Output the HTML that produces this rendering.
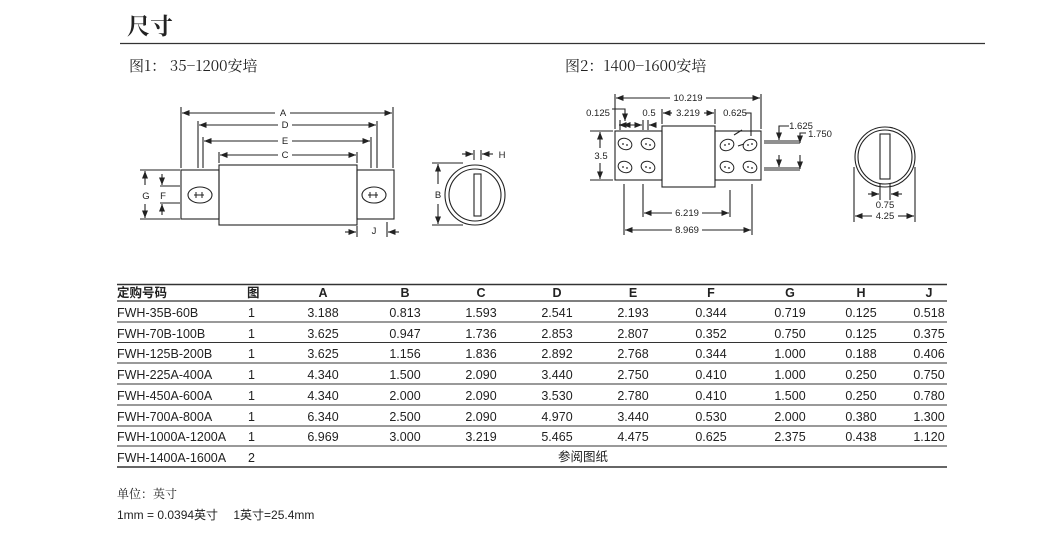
<!DOCTYPE html>
<html><head><meta charset="utf-8"><style>
body{margin:0;background:#fff;}
svg{display:block;}
text{font-family:"Liberation Sans","Noto Sans CJK SC",sans-serif;fill:#222;}
.c{font-family:"Liberation Serif","Noto Serif CJK SC",serif;}
</style></head><body>
<svg width="1056" height="547" viewBox="0 0 1056 547" xmlns="http://www.w3.org/2000/svg">
<defs>
<marker id="ar" viewBox="0 0 10 10" refX="10" refY="5" markerWidth="7" markerHeight="7" orient="auto-start-reverse"><path d="M0,1 L10,5 L0,9 z" fill="#222"/></marker>
</defs>
<text x="127" y="34" font-size="23" font-weight="bold" class="c" style="font-family:'Noto Serif CJK SC',serif">尺寸</text>
<line x1="120" y1="43.5" x2="985" y2="43.5" stroke="#333" stroke-width="1.2"/>
<text x="129" y="71" font-size="15" class="c" style="font-family:'Noto Serif CJK SC',serif">图1：  35−1200安培</text>
<text x="565" y="71" font-size="15" class="c" style="font-family:'Noto Serif CJK SC',serif">图2：1400−1600安培</text>

<g stroke="#222" fill="none" stroke-width="1.1">
<!-- fig1 -->
<rect x="181" y="170" width="38" height="49"/>
<rect x="219" y="165" width="138" height="60"/>
<rect x="357" y="170" width="37" height="49"/>
<ellipse cx="200" cy="195" rx="12" ry="8"/>
<ellipse cx="374" cy="195" rx="12" ry="8"/>
<g stroke-width="1"><line x1="196" y1="192" x2="196" y2="198"/><line x1="202" y1="192" x2="202" y2="198"/><line x1="194" y1="195" x2="204" y2="195"/>
<line x1="370" y1="192" x2="370" y2="198"/><line x1="376" y1="192" x2="376" y2="198"/><line x1="368" y1="195" x2="378" y2="195"/></g>
<line x1="181" y1="107" x2="181" y2="168"/><line x1="393" y1="107" x2="393" y2="168"/>
<line x1="198" y1="121" x2="198" y2="168"/><line x1="377" y1="121" x2="377" y2="168"/>
<line x1="203" y1="137" x2="203" y2="168"/><line x1="371" y1="137" x2="371" y2="168"/>
<line x1="219" y1="152" x2="219" y2="163"/><line x1="357" y1="152" x2="357" y2="163"/>
<line x1="182" y1="113" x2="275" y2="113" marker-start="url(#ar)"/><line x1="290" y1="113" x2="392" y2="113" marker-end="url(#ar)"/>
<line x1="199" y1="125" x2="278" y2="125" marker-start="url(#ar)"/><line x1="292" y1="125" x2="376" y2="125" marker-end="url(#ar)"/>
<line x1="204" y1="141" x2="278" y2="141" marker-start="url(#ar)"/><line x1="292" y1="141" x2="370" y2="141" marker-end="url(#ar)"/>
<line x1="220" y1="155" x2="278" y2="155" marker-start="url(#ar)"/><line x1="292" y1="155" x2="356" y2="155" marker-end="url(#ar)"/>
<line x1="140" y1="170" x2="180" y2="170"/><line x1="140" y1="219" x2="180" y2="219"/>
<line x1="160" y1="186" x2="180" y2="186"/><line x1="160" y1="203" x2="180" y2="203"/>
<line x1="145" y1="185" x2="145" y2="171" marker-end="url(#ar)"/><line x1="145" y1="204" x2="145" y2="218" marker-end="url(#ar)"/>
<line x1="162" y1="174" x2="162" y2="185" marker-end="url(#ar)"/><line x1="162" y1="215" x2="162" y2="204" marker-end="url(#ar)"/>
<line x1="357" y1="226" x2="357" y2="237"/><line x1="387" y1="222" x2="387" y2="237"/>
<line x1="345" y1="232" x2="356" y2="232" marker-end="url(#ar)"/><line x1="399" y1="232" x2="388" y2="232" marker-end="url(#ar)"/>
<circle cx="475" cy="195" r="30"/><circle cx="475" cy="195" r="26"/>
<rect x="474" y="174" width="7" height="42"/>
<line x1="432" y1="163" x2="463" y2="163"/><line x1="432" y1="225" x2="463" y2="225"/>
<line x1="438" y1="184" x2="438" y2="164" marker-end="url(#ar)"/><line x1="438" y1="204" x2="438" y2="224" marker-end="url(#ar)"/>
<line x1="474" y1="150" x2="474" y2="160"/><line x1="481" y1="150" x2="481" y2="160"/>
<line x1="462" y1="154" x2="473" y2="154" marker-end="url(#ar)"/><line x1="493" y1="154" x2="482" y2="154" marker-end="url(#ar)"/>

<!-- fig2 -->
<rect x="615" y="131" width="47" height="49"/>
<rect x="662" y="126" width="53" height="61"/>
<rect x="715" y="131" width="46" height="49"/>
<g stroke-width="1">
<ellipse cx="625" cy="144" rx="7" ry="5.5" transform="rotate(20 625 144)"/>
<ellipse cx="648" cy="144" rx="7" ry="5.5" transform="rotate(20 648 144)"/>
<ellipse cx="625" cy="167" rx="7" ry="5.5" transform="rotate(20 625 167)"/>
<ellipse cx="648" cy="167" rx="7" ry="5.5" transform="rotate(20 648 167)"/>
<ellipse cx="727" cy="145" rx="7" ry="5.5" transform="rotate(-20 727 145)"/>
<ellipse cx="750" cy="145" rx="7" ry="5.5" transform="rotate(-20 750 145)"/>
<ellipse cx="727" cy="167" rx="7" ry="5.5" transform="rotate(20 727 167)"/>
<ellipse cx="750" cy="167" rx="7" ry="5.5" transform="rotate(20 750 167)"/>
</g>
<g fill="#222" stroke="none">
<circle cx="623" cy="144" r="0.9"/><circle cx="627" cy="145" r="0.9"/><circle cx="646" cy="144" r="0.9"/><circle cx="650" cy="145" r="0.9"/>
<circle cx="623" cy="167" r="0.9"/><circle cx="627" cy="168" r="0.9"/><circle cx="646" cy="167" r="0.9"/><circle cx="650" cy="168" r="0.9"/>
<circle cx="725" cy="145" r="0.9"/><circle cx="729" cy="144" r="0.9"/><circle cx="748" cy="145" r="0.9"/><circle cx="752" cy="144" r="0.9"/>
<circle cx="725" cy="167" r="0.9"/><circle cx="729" cy="168" r="0.9"/><circle cx="748" cy="167" r="0.9"/><circle cx="752" cy="168" r="0.9"/>
</g>
<line x1="615" y1="94" x2="615" y2="129"/><line x1="761" y1="94" x2="761" y2="129"/>
<line x1="616" y1="98" x2="670" y2="98" marker-start="url(#ar)"/><line x1="706" y1="98" x2="760" y2="98" marker-end="url(#ar)"/>
<line x1="662" y1="109" x2="662" y2="124"/><line x1="715" y1="109" x2="715" y2="124"/>
<line x1="663" y1="113" x2="672" y2="113" marker-start="url(#ar)"/><line x1="704" y1="113" x2="714" y2="113" marker-end="url(#ar)"/>
<line x1="620" y1="120" x2="620" y2="130"/><line x1="643" y1="120" x2="643" y2="130"/><line x1="648" y1="120" x2="648" y2="130"/>
<line x1="622" y1="125" x2="619" y2="125" marker-end="url(#ar)"/>
<line x1="623" y1="125" x2="642" y2="125" marker-start="url(#ar)" marker-end="url(#ar)"/>
<line x1="656" y1="125" x2="649" y2="125" marker-end="url(#ar)"/>
<polyline points="612,109 625,109 625,121" marker-end="url(#ar)"/>
<polyline points="745,113 751,113 751,136" />
<line x1="742" y1="130" x2="734" y2="135"/><line x1="744" y1="144" x2="738" y2="146"/>
<line x1="590" y1="131" x2="613" y2="131"/><line x1="590" y1="180" x2="613" y2="180"/>
<line x1="600" y1="148" x2="600" y2="132" marker-end="url(#ar)"/><line x1="600" y1="163" x2="600" y2="179" marker-end="url(#ar)"/>
<line x1="764" y1="141" x2="800" y2="141"/><line x1="764" y1="143" x2="800" y2="143"/>
<line x1="764" y1="168" x2="800" y2="168"/><line x1="764" y1="170" x2="800" y2="170"/>
<polyline points="789,126 779,126 779,140" marker-end="url(#ar)"/><line x1="779" y1="155" x2="779" y2="167" marker-end="url(#ar)"/>
<polyline points="806,133 800,133 800,143" marker-end="url(#ar)"/><line x1="800" y1="155" x2="800" y2="169" marker-end="url(#ar)"/>
<line x1="624" y1="184" x2="624" y2="235"/><line x1="643" y1="184" x2="643" y2="217"/>
<line x1="730" y1="190" x2="730" y2="217"/><line x1="752" y1="184" x2="752" y2="235"/>
<line x1="644" y1="213" x2="672" y2="213" marker-start="url(#ar)"/><line x1="702" y1="213" x2="729" y2="213" marker-end="url(#ar)"/>
<line x1="625" y1="230" x2="672" y2="230" marker-start="url(#ar)"/><line x1="702" y1="230" x2="751" y2="230" marker-end="url(#ar)"/>
<circle cx="885" cy="157" r="30"/><circle cx="885" cy="157" r="27"/>
<rect x="880" y="134" width="10" height="45"/>
<line x1="880" y1="184" x2="880" y2="200"/><line x1="890" y1="184" x2="890" y2="200"/>
<line x1="868" y1="194" x2="879" y2="194" marker-end="url(#ar)"/><line x1="902" y1="194" x2="891" y2="194" marker-end="url(#ar)"/>
<line x1="854" y1="167" x2="854" y2="222"/><line x1="915" y1="167" x2="915" y2="222"/>
<line x1="855" y1="216" x2="872" y2="216" marker-start="url(#ar)"/><line x1="898" y1="216" x2="914" y2="216" marker-end="url(#ar)"/>
</g>
<g font-size="9.5" text-anchor="middle">
<text x="283" y="116">A</text><text x="285" y="128">D</text><text x="285" y="144">E</text><text x="285" y="158">C</text>
<text x="146" y="199">G</text><text x="163" y="199">F</text><text x="374" y="234">J</text>
<text x="438" y="198">B</text><text x="502" y="158">H</text>
<text x="688" y="101">10.219</text><text x="688" y="116">3.219</text>
<text x="598" y="116">0.125</text><text x="649" y="116">0.5</text><text x="735" y="116">0.625</text>
<text x="801" y="129">1.625</text><text x="820" y="137">1.750</text>
<text x="601" y="159">3.5</text>
<text x="687" y="216">6.219</text><text x="687" y="233">8.969</text>
<text x="885" y="208">0.75</text><text x="885" y="219">4.25</text>
</g>
<!-- table -->
<g stroke="#333">
<line x1="117" y1="284.5" x2="947" y2="284.5" stroke-width="1.6"/>
<line x1="117" y1="301" x2="947" y2="301" stroke-width="1.2"/>
<line x1="117" y1="322" x2="947" y2="322"/><line x1="117" y1="342.5" x2="947" y2="342.5"/>
<line x1="117" y1="363" x2="947" y2="363"/><line x1="117" y1="384" x2="947" y2="384"/>
<line x1="117" y1="405" x2="947" y2="405"/><line x1="117" y1="426" x2="947" y2="426"/>
<line x1="117" y1="446" x2="947" y2="446"/><line x1="117" y1="467" x2="947" y2="467" stroke-width="1.4"/>
</g>
<g font-size="12.5">
<text x="117" y="297" font-weight="bold" style="font-family:'Noto Sans CJK SC',sans-serif">定购号码</text>
<text x="247" y="297" font-weight="bold" style="font-family:'Noto Sans CJK SC',sans-serif">图</text>
<g font-weight="bold" text-anchor="middle"><text x="323" y="297">A</text><text x="405" y="297">B</text><text x="481" y="297">C</text><text x="557" y="297">D</text><text x="633" y="297">E</text><text x="711" y="297">F</text><text x="790" y="297">G</text><text x="861" y="297">H</text><text x="929" y="297">J</text></g>
<g fill="#333">
<text x="117" y="317">FWH-35B-60B</text><text x="117" y="338">FWH-70B-100B</text><text x="117" y="358">FWH-125B-200B</text><text x="117" y="379">FWH-225A-400A</text><text x="117" y="400">FWH-450A-600A</text><text x="117" y="421">FWH-700A-800A</text><text x="117" y="441">FWH-1000A-1200A</text><text x="117" y="462">FWH-1400A-1600A</text>
<text x="248" y="317">1</text><text x="248" y="338">1</text><text x="248" y="358">1</text><text x="248" y="379">1</text><text x="248" y="400">1</text><text x="248" y="421">1</text><text x="248" y="441">1</text><text x="248" y="462">2</text>
</g>
<g text-anchor="middle">
<text x="323" y="317">3.188</text><text x="405" y="317">0.813</text><text x="481" y="317">1.593</text><text x="557" y="317">2.541</text><text x="633" y="317">2.193</text><text x="711" y="317">0.344</text><text x="790" y="317">0.719</text><text x="861" y="317">0.125</text><text x="929" y="317">0.518</text>
<text x="323" y="338">3.625</text><text x="405" y="338">0.947</text><text x="481" y="338">1.736</text><text x="557" y="338">2.853</text><text x="633" y="338">2.807</text><text x="711" y="338">0.352</text><text x="790" y="338">0.750</text><text x="861" y="338">0.125</text><text x="929" y="338">0.375</text>
<text x="323" y="358">3.625</text><text x="405" y="358">1.156</text><text x="481" y="358">1.836</text><text x="557" y="358">2.892</text><text x="633" y="358">2.768</text><text x="711" y="358">0.344</text><text x="790" y="358">1.000</text><text x="861" y="358">0.188</text><text x="929" y="358">0.406</text>
<text x="323" y="379">4.340</text><text x="405" y="379">1.500</text><text x="481" y="379">2.090</text><text x="557" y="379">3.440</text><text x="633" y="379">2.750</text><text x="711" y="379">0.410</text><text x="790" y="379">1.000</text><text x="861" y="379">0.250</text><text x="929" y="379">0.750</text>
<text x="323" y="400">4.340</text><text x="405" y="400">2.000</text><text x="481" y="400">2.090</text><text x="557" y="400">3.530</text><text x="633" y="400">2.780</text><text x="711" y="400">0.410</text><text x="790" y="400">1.500</text><text x="861" y="400">0.250</text><text x="929" y="400">0.780</text>
<text x="323" y="421">6.340</text><text x="405" y="421">2.500</text><text x="481" y="421">2.090</text><text x="557" y="421">4.970</text><text x="633" y="421">3.440</text><text x="711" y="421">0.530</text><text x="790" y="421">2.000</text><text x="861" y="421">0.380</text><text x="929" y="421">1.300</text>
<text x="323" y="441">6.969</text><text x="405" y="441">3.000</text><text x="481" y="441">3.219</text><text x="557" y="441">5.465</text><text x="633" y="441">4.475</text><text x="711" y="441">0.625</text><text x="790" y="441">2.375</text><text x="861" y="441">0.438</text><text x="929" y="441">1.120</text>
<text x="583" y="461">参阅图纸</text>
</g>
</g>
<text x="117" y="498" font-size="12" class="c" style="font-family:'Noto Serif CJK SC',serif">单位：英寸</text>
<text x="117" y="519" font-size="12">1mm = 0.0394英寸　 1英寸=25.4mm</text>
</svg>
</body></html>
